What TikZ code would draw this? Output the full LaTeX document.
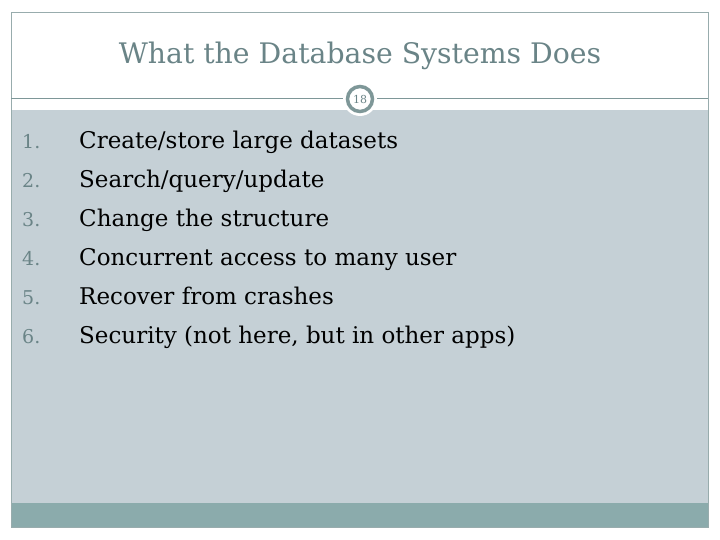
\documentclass[tikz,border=0pt]{standalone}
\usepackage{fontspec}
\setmainfont{DejaVu Serif}
\definecolor{bodygrey}{HTML}{C5D0D6}
\definecolor{bandteal}{HTML}{8BABAC}
\definecolor{titleteal}{HTML}{6A8487}
\definecolor{ringteal}{HTML}{7E9798}
\begin{document}
\begin{tikzpicture}[x=1pt,y=-1pt,
    itemnum/.style={anchor=base west, inner sep=0pt, text=titleteal, font=\fontsize{19}{22}\selectfont},
    itemtxt/.style={anchor=base west, inner sep=0pt, font=\fontsize{23}{28}\selectfont}
]
\useasboundingbox (0,0) rectangle (720,540);
\fill[white] (0,0) rectangle (720,540);

% Frame and bands
\fill[bodygrey] (11,110) rectangle (708,503);
\fill[bandteal] (11,503) rectangle (708,527);
\draw[ringteal!80, line width=0.8pt] (11,12) rectangle (708,527);
\draw[ringteal, line width=1pt] (11,99) -- (708,99);

% Title
\node[text=titleteal, font=\fontsize{28.3}{34}\selectfont] (title) at (360,56) {What the Database Systems Does};

% Slide number
\fill[white] (360,99) circle (17);
\draw[ringteal, line width=3.5pt] (360,99) circle (12.5);
\node[text=titleteal, font=\fontsize{11}{13}\selectfont] (num) at (360,99) {18};

% Items
\foreach \t [count=\i] in {{Create/store large datasets},
    {Search/query/update},
    {Change the structure},
    {Concurrent access to many user},
    {Recover from crashes},
    {Security (not here, but in other apps)}} {
  \node[itemnum] (n\i) at (22,{149+38.8*(\i-1)}) {\i.};
  \node[itemtxt] (t\i) at (79,{149+38.8*(\i-1)}) {\t};
}
\end{tikzpicture}
\end{document}
